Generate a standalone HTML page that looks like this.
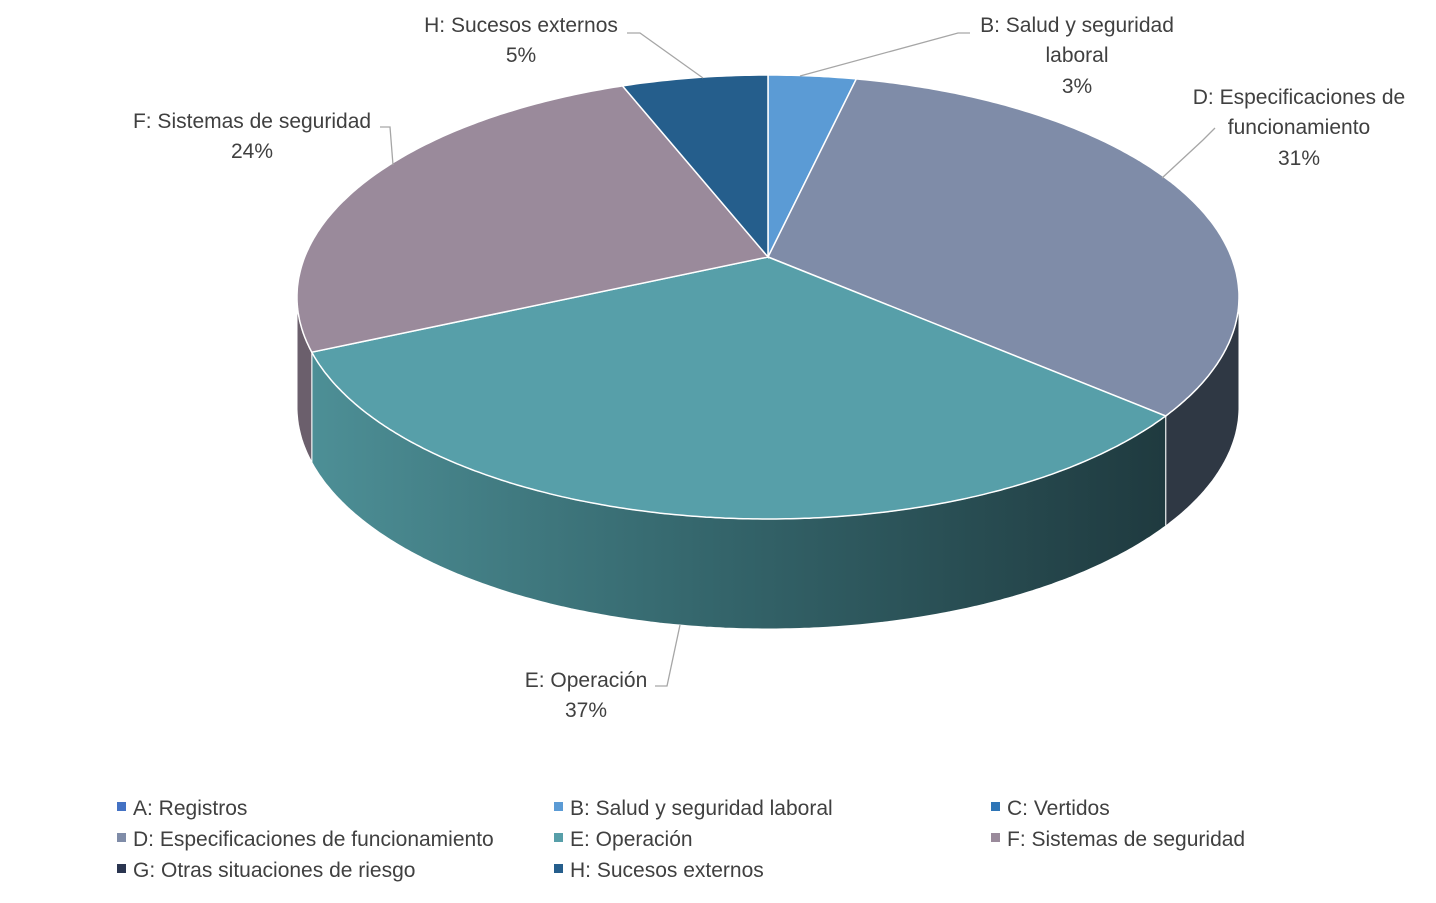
<!DOCTYPE html>
<html><head><meta charset="utf-8">
<style>
html,body{margin:0;padding:0;background:#fff;}
body{width:1436px;height:898px;overflow:hidden;font-family:"Liberation Sans",sans-serif;}
svg text{font-family:"Liberation Sans",sans-serif;fill:#404040;font-size:21px;}
</style></head>
<body>
<svg id="chart" width="1436" height="898" viewBox="0 0 1436 898" xmlns="http://www.w3.org/2000/svg">
<defs>
<linearGradient id="gE" x1="0" x2="1" y1="0" y2="0" gradientUnits="objectBoundingBox">
<stop offset="0" stop-color="#4d8f96"/><stop offset="0.45" stop-color="#35676d"/><stop offset="1" stop-color="#1f3a3f"/>
</linearGradient>
</defs>
<g id="sides"></g>
<g id="tops"></g>
<g id="labels">
<polyline points="627,33 640,33 703,78" fill="none" stroke="#a6a6a6" stroke-width="1.3"/>
<polyline points="970,33 958,33 800,76" fill="none" stroke="#a6a6a6" stroke-width="1.3"/>
<polyline points="1215,128 1203,140 1162,178" fill="none" stroke="#a6a6a6" stroke-width="1.3"/>
<polyline points="380,127 390,127 393,165" fill="none" stroke="#a6a6a6" stroke-width="1.3"/>
<polyline points="655,686 667,686 680,625" fill="none" stroke="#a6a6a6" stroke-width="1.3"/>
<text x="521" y="32" text-anchor="middle">H: Sucesos externos</text>
<text x="521" y="62" text-anchor="middle">5%</text>
<text x="1077" y="32" text-anchor="middle">B: Salud y seguridad</text>
<text x="1077" y="62" text-anchor="middle">laboral</text>
<text x="1077" y="93" text-anchor="middle">3%</text>
<text x="1299" y="104" text-anchor="middle">D: Especificaciones de</text>
<text x="1299" y="134" text-anchor="middle">funcionamiento</text>
<text x="1299" y="165" text-anchor="middle">31%</text>
<text x="252" y="128" text-anchor="middle">F: Sistemas de seguridad</text>
<text x="252" y="158" text-anchor="middle">24%</text>
<text x="586" y="687" text-anchor="middle">E: Operación</text>
<text x="586" y="717" text-anchor="middle">37%</text>
</g>
<g id="legend"></g>
</svg>
<script>
const categories = ["A: Registros","B: Salud y seguridad laboral","C: Vertidos","D: Especificaciones de funcionamiento","E: Operación","F: Sistemas de seguridad","G: Otras situaciones de riesgo","H: Sucesos externos"];
const values = [0, 3, 0, 31, 37, 24, 0, 5];
const colors = ["#4472c4","#5b9bd5","#2e75b6","#7f8ca8","#579fa9","#9a8a9b","#2a3550","#255e8c"];
const sideColors = ["#2f4f86","#3f6d96","#204f7c","#2f3844","url(#gE)","#6b5f6c","#1c2438","#1a4264"];

const NS="http://www.w3.org/2000/svg";
const cx=768, cy=297, rx=471, ry=222, ax=768, ay=257, depth=110;
const total = values.reduce((a,b)=>a+b,0);
function pt(t){return [cx+rx*Math.sin(t), cy-ry*Math.cos(t)];}
function arcPts(t1,t2,dy){const n=Math.max(2,Math.ceil(Math.abs(t2-t1)/0.01));const r=[];for(let i=0;i<=n;i++){const t=t1+(t2-t1)*i/n;const p=pt(t);r.push(p[0].toFixed(1)+","+(p[1]+dy).toFixed(1));}return r;}
const sides=document.getElementById('sides'), tops=document.getElementById('tops');
let acc=0;
values.forEach((v,i)=>{
  const t1=acc/total*2*Math.PI; acc+=v; const t2=acc/total*2*Math.PI;
  if(v<=0) return;
  const s=Math.max(t1,Math.PI/2), e=Math.min(t2,3*Math.PI/2);
  if(e>s){
    const top=arcPts(s,e,0), bot=arcPts(e,s,depth);
    const p=document.createElementNS(NS,'polygon');
    
    
    p.setAttribute('points',top.concat(bot).join(' '));
    p.setAttribute('fill',sideColors[i]);
    p.setAttribute('stroke','#ffffff');p.setAttribute('stroke-width','1');
    sides.appendChild(p);
  }
  const pts=[ax+","+ay].concat(arcPts(t1,t2,0));
  const p=document.createElementNS(NS,'polygon');
  
  
  p.setAttribute('points',pts.join(' '));
  p.setAttribute('fill',colors[i]);
  p.setAttribute('stroke','#ffffff');p.setAttribute('stroke-width','1.5');
  tops.appendChild(p);
});
const lg=document.getElementById('legend');
const colX=[117,554,991], rowY=[807,838,869];
categories.forEach((c,i)=>{
  const x=colX[i%3], y=rowY[Math.floor(i/3)];
  const r=document.createElementNS(NS,'rect');
  
  
  r.setAttribute('x',x);r.setAttribute('y',y-5);r.setAttribute('width',9);r.setAttribute('height',9);
  r.setAttribute('fill',colors[i]);
  lg.appendChild(r);
  const t=document.createElementNS(NS,'text');
  
  
  t.setAttribute('x',x+16);t.setAttribute('y',y+8);
  t.textContent=c;
  lg.appendChild(t);
});
</script>
</body></html>
